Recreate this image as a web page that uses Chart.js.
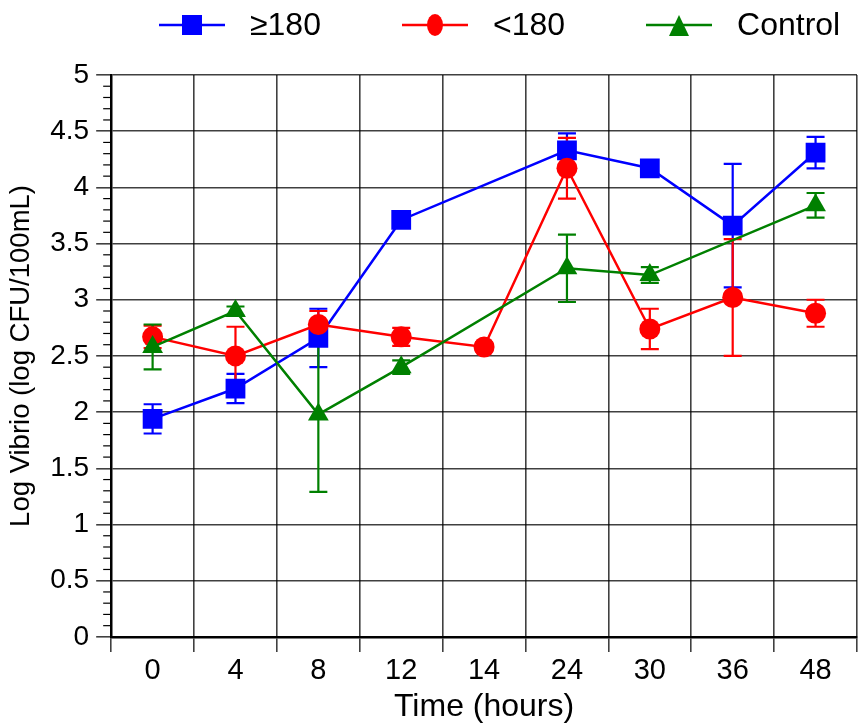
<!DOCTYPE html>
<html>
<head>
<meta charset="utf-8">
<script src="https://cdn.jsdelivr.net/npm/chart.js@4.4.1/dist/chart.umd.min.js"></script>
<style>
  html, body { margin: 0; padding: 0; background: #fff; overflow: hidden; }
  #wrap { position: relative; width: 859px; height: 728px; }
  #vibrioChart { display: block; }
  #legend {
    position: absolute; top: 6px; left: 159px;
    display: flex; align-items: center; gap: 81px;
    font-family: 'Liberation Sans', Arial, sans-serif; font-size: 32px; color: #000;
  }
  #legend .item { display: flex; align-items: center; gap: 25px; }
  #legend canvas { display: block; }
</style>
</head>
<body>
<div id="wrap">
  <div id="legend"></div>
  <canvas id="vibrioChart"></canvas>
</div>
<script>
// Vibrio counts over time, three groups with error bars

const hours = ['0', '4', '8', '12', '14', '24', '30', '36', '48'];
const yTickLabels = ['0', '0.5', '1', '1.5', '2', '2.5', '3', '3.5', '4', '4.5', '5'];

const highValues = [1.94, 2.21, 2.66, 3.71, null, 4.33, 4.17, 3.66, 4.31];
const highErrors = [0.13, 0.13, 0.26, 0.04, null, 0.15, 0.04, 0.55, 0.14];

const lowValues = [2.67, 2.50, 2.78, 2.67, 2.58, 4.17, 2.74, 3.02, 2.88];
const lowErrors = [0.10, 0.26, 0.12, 0.08, 0.04, 0.27, 0.18, 0.52, 0.12];

const controlValues = [2.58, 2.90, 1.98, 2.40, null, 3.28, 3.22, null, 3.84];
const controlErrors = [0.20, 0.04, 0.69, 0.06, null, 0.30, 0.07, null, 0.11];

const FONT = "'Liberation Sans', Arial, sans-serif";

// little legend icon: line with the marker in the middle
function legendIcon(color, shape) {
    const c = document.createElement('canvas');
    c.width = 66;
    c.height = 26;
    const g = c.getContext('2d');
    g.strokeStyle = color;
    g.fillStyle = color;
    g.lineWidth = 2.5;
    g.beginPath();
    g.moveTo(0, 13);
    g.lineTo(66, 13);
    g.stroke();
    g.beginPath();
    if (shape === 'rect') {
        g.rect(23, 3, 20, 20);
    } else if (shape === 'circle') {
        g.ellipse(33, 13, 8, 11, 0, 0, Math.PI * 2);
    } else {
        g.moveTo(33, 3);
        g.lineTo(43, 24);
        g.lineTo(23, 24);
        g.closePath();
    }
    g.fill();
    return c;
}

const errorBars = {
    id: 'errorBars',
    beforeDatasetsDraw(chart) {
        const { ctx } = chart;
        const y = chart.scales.y;
        chart.data.datasets.forEach((ds, i) => {
            const meta = chart.getDatasetMeta(i);
            ctx.save();
            ctx.strokeStyle = ds.borderColor;
            ctx.lineWidth = 2.2;
            ds.errors.forEach((e, j) => {
                if (e == null || ds.data[j] == null) return;
                const px = meta.data[j].x;
                const top = y.getPixelForValue(ds.data[j] + e);
                const bot = y.getPixelForValue(ds.data[j] - e);
                ctx.beginPath();
                ctx.moveTo(px, top);
                ctx.lineTo(px, bot);
                ctx.moveTo(px - 9, top);
                ctx.lineTo(px + 9, top);
                ctx.moveTo(px - 9, bot);
                ctx.lineTo(px + 9, bot);
                ctx.stroke();
            });
            ctx.restore();
        });
    }
};

// minor ticks on the value axis every 0.1
const minorTicks = {
    id: 'minorTicks',
    afterDraw(chart) {
        const { ctx, chartArea } = chart;
        const y = chart.scales.y;
        ctx.save();
        ctx.strokeStyle = '#000';
        ctx.lineWidth = 1.2;
        for (let k = 0; k <= 50; k++) {
            if (k % 5 === 0) continue;
            const py = y.getPixelForValue(k / 10);
            ctx.beginPath();
            ctx.moveTo(chartArea.left - 8, py);
            ctx.lineTo(chartArea.left, py);
            ctx.stroke();
        }
        ctx.restore();
    }
};

const datasets = [
    {
        label: '\u2265180',
        data: highValues,
        errors: highErrors,
        borderColor: '#0000ff',
        backgroundColor: '#0000ff',
        pointStyle: 'rect',
        pointRadius: 14,
        order: 2,
        shape: 'rect'
    },
    {
        label: '<180',
        data: lowValues,
        errors: lowErrors,
        borderColor: '#ff0000',
        backgroundColor: '#ff0000',
        pointStyle: 'circle',
        pointRadius: 10.5,
        order: 1,
        shape: 'circle'
    },
    {
        label: 'Control',
        data: controlValues,
        errors: controlErrors,
        borderColor: '#008000',
        backgroundColor: '#008000',
        pointStyle: 'triangle',
        pointRadius: 12,
        order: 0,
        shape: 'triangle'
    }
];

// html legend
const legendEl = document.getElementById('legend');
datasets.forEach(ds => {
    const item = document.createElement('div');
    item.className = 'item';
    item.appendChild(legendIcon(ds.borderColor, ds.shape));
    const txt = document.createElement('span');
    txt.textContent = ds.label;
    item.appendChild(txt);
    legendEl.appendChild(item);
});

const ctx = document.getElementById('vibrioChart');
new Chart(ctx, {
    type: 'line',
    data: { labels: hours, datasets },
    options: {
        responsive: true,
        maintainAspectRatio: false,
        animation: false,
        spanGaps: true,
        elements: {
            line: { borderWidth: 2.5, tension: 0 },
            point: { borderWidth: 0, hoverRadius: 12 }
        },
        layout: {
            autoPadding: false,
            padding: { top: 75, right: 2, left: 6, bottom: 3 }
        },
        plugins: {
            tooltip: { enabled: false },
            legend: { display: false }
        },
        scales: {
            x: {
                type: 'category',
                offset: true,
                grid: {
                    offset: true,
                    color: 'rgba(0,0,0,0.75)',
                    lineWidth: 1.6,
                    tickLength: 15
                },
                border: { color: '#000', width: 2.5 },
                ticks: {
                    color: '#000',
                    padding: 3,
                    font: { family: FONT, size: 29, lineHeight: 1.1 }
                },
                title: {
                    display: true,
                    text: 'Time (hours)',
                    color: '#000',
                    padding: { top: 0, bottom: 0 },
                    font: { family: FONT, size: 32, lineHeight: 1.1 }
                }
            },
            y: {
                min: 0,
                max: 5,
                grid: {
                    color: 'rgba(0,0,0,0.75)',
                    lineWidth: 1.6,
                    tickLength: 15
                },
                border: { color: '#000', width: 2.5 },
                ticks: {
                    stepSize: 0.5,
                    color: '#000',
                    padding: 7,
                    font: { family: FONT, size: 28 },
                    callback: (v, i) => yTickLabels[i]
                },
                title: {
                    display: true,
                    text: 'Log Vibrio (log CFU/100mL)',
                    color: '#000',
                    padding: { top: 0, bottom: 7 },
                    font: { family: FONT, size: 27.5, lineHeight: 1.1 }
                }
            }
        }
    },
    plugins: [errorBars, minorTicks]
});
</script>
</body>
</html>
